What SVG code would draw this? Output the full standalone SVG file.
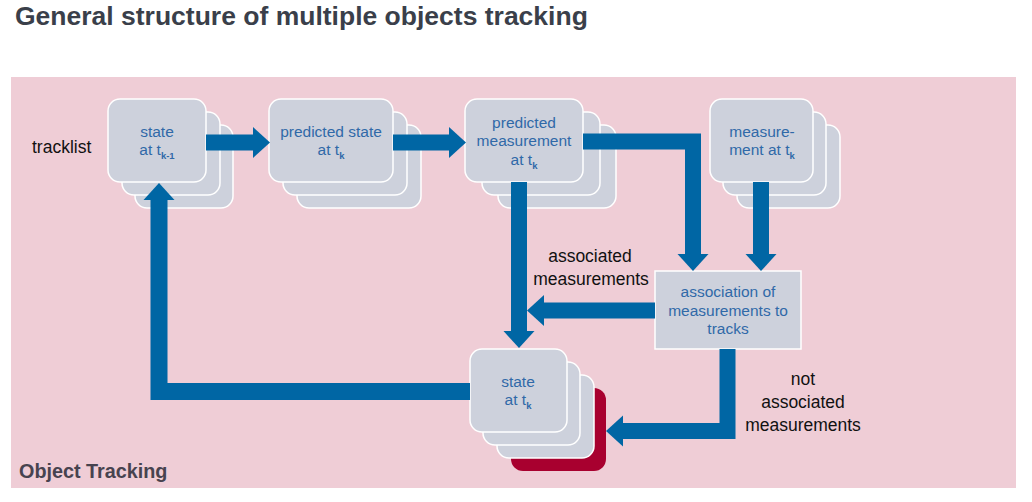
<svg xmlns="http://www.w3.org/2000/svg" width="1032" height="502" viewBox="0 0 1032 502">
<defs>
<style>
.bg{fill:#efcdd6}
.card{fill:#cdd1dc;stroke:#ffffff;stroke-width:1.5}
.red{fill:#a8002f}
.box{fill:#cdd1dc;stroke:#ffffff;stroke-width:1.5}
.nt{font-family:"Liberation Sans",Arial,sans-serif;font-size:15.5px;fill:#3069a8;text-anchor:middle}
.sub{font-size:9.5px;font-weight:bold}
.lbl{font-family:"Liberation Sans",Arial,sans-serif;font-size:17.5px;fill:#111111;text-anchor:middle}
.conn{fill:none;stroke:#0066a4;stroke-width:16;stroke-linejoin:miter;stroke-linecap:butt}
</style>
<marker id="ah" markerUnits="userSpaceOnUse" viewBox="-1 -16 18 32" markerWidth="18" markerHeight="32" refX="0" refY="0" orient="auto">
<path d="M-1,-15.5 L16,0 L-1,15.5 Z" fill="#0066a4"/>
</marker>
</defs>
<rect width="1032" height="502" fill="#ffffff"/>
<text x="15" y="25" font-family="Liberation Sans,Arial,sans-serif" font-size="26.5" font-weight="bold" fill="#3a3f4a">General structure of multiple objects tracking</text>
<rect class="bg" x="11" y="77" width="1005" height="411"/>
<text x="19" y="478" font-family="Liberation Sans,Arial,sans-serif" font-size="19.8" font-weight="bold" fill="#47434f">Object Tracking</text>
<text x="32" y="153" font-family="Liberation Sans,Arial,sans-serif" font-size="17.5" fill="#111111">tracklist</text>

<g id="node-state-k1">
<rect class="card" x="135" y="125" width="98" height="83" rx="12"/>
<rect class="card" x="122" y="112" width="98" height="83" rx="12"/>
<rect class="card" x="108" y="99" width="98" height="83" rx="12"/>
<text class="nt" x="157" y="137">state</text>
<text class="nt" x="157" y="155">at t<tspan class="sub" dy="4">k-1</tspan></text>
</g>

<g id="node-predicted-state">
<rect class="card" x="297" y="125" width="124" height="83" rx="12"/>
<rect class="card" x="283" y="112" width="124" height="83" rx="12"/>
<rect class="card" x="269" y="99" width="124" height="83" rx="12"/>
<text class="nt" x="331" y="137">predicted state</text>
<text class="nt" x="331" y="155">at t<tspan class="sub" dy="4">k</tspan></text>
</g>

<g id="node-predicted-measurement">
<rect class="card" x="498" y="125" width="118" height="83" rx="12"/>
<rect class="card" x="482" y="112" width="118" height="83" rx="12"/>
<rect class="card" x="465" y="99" width="118" height="83" rx="12"/>
<text class="nt" x="524" y="128">predicted</text>
<text class="nt" x="524" y="146">measurement</text>
<text class="nt" x="524" y="165">at t<tspan class="sub" dy="4">k</tspan></text>
</g>

<g id="node-measurement">
<rect class="card" x="737" y="125" width="103" height="83" rx="12"/>
<rect class="card" x="723" y="112" width="103" height="83" rx="12"/>
<rect class="card" x="710" y="99" width="103" height="83" rx="12"/>
<text class="nt" x="762" y="137">measure-</text>
<text class="nt" x="762" y="155">ment at t<tspan class="sub" dy="4">k</tspan></text>
</g>

<g id="node-association">
<rect class="box" x="655" y="271" width="146" height="78"/>
<text class="nt" x="728" y="297">association of</text>
<text class="nt" x="728" y="316">measurements to</text>
<text class="nt" x="728" y="334">tracks</text>
</g>

<g id="node-state-k">
<rect class="red" x="511" y="388" width="95" height="83" rx="12"/>
<rect class="card" x="497" y="375" width="97" height="83" rx="12"/>
<rect class="card" x="483" y="362" width="97" height="83" rx="12"/>
<rect class="card" x="470" y="349" width="97" height="83" rx="12"/>
<text class="nt" x="518" y="387">state</text>
<text class="nt" x="518" y="405">at t<tspan class="sub" dy="4">k</tspan></text>
</g>

<g id="connectors">
<path class="conn" d="M206,142.5 H254" marker-end="url(#ah)"/>
<path class="conn" d="M393,142.5 H450" marker-end="url(#ah)"/>
<path class="conn" d="M583,141.5 H693 V255" marker-end="url(#ah)"/>
<path class="conn" d="M761,182 V255" marker-end="url(#ah)"/>
<path class="conn" d="M519,182 V332" marker-end="url(#ah)"/>
<path class="conn" d="M655,310.5 H543" marker-end="url(#ah)"/>
<path class="conn" d="M727.5,349 V431 H622" marker-end="url(#ah)"/>
<path class="conn" style="stroke-width:17" d="M470,391.5 H159 V199" marker-end="url(#ah)"/>
</g>

<g id="labels">
<text class="lbl" x="590" y="262">associated</text>
<text class="lbl" x="591" y="285">measurements</text>
<text class="lbl" x="803" y="385">not</text>
<text class="lbl" x="803" y="408">associated</text>
<text class="lbl" x="803" y="431">measurements</text>
</g>
</svg>
